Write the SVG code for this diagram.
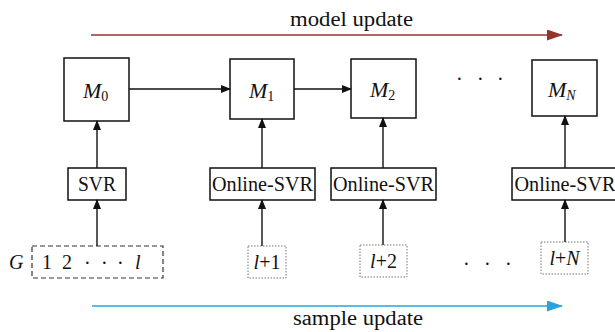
<svg xmlns="http://www.w3.org/2000/svg" width="615" height="332" viewBox="0 0 615 332" font-family="Liberation Serif, DejaVu Serif, serif">
<style>
text{fill:#111}
.box{fill:#fff;stroke:#111;stroke-width:1.5}
.lbl{font-size:20px}
.m{font-size:22px;font-style:italic}
.sub{font-size:14px;font-style:normal}
.it{font-style:italic}
.conn{stroke:#111;stroke-width:1.4;fill:none}
.dot{font-size:20px}
</style>
<defs>
<marker id="ah" markerWidth="10" markerHeight="8" refX="9" refY="4" orient="auto" markerUnits="userSpaceOnUse">
<path d="M0,0 L10,4 L0,8 Z" fill="#111"/>
</marker>
<marker id="ahr" markerWidth="16" markerHeight="11" refX="15" refY="5.5" orient="auto" markerUnits="userSpaceOnUse">
<path d="M0,0 L16,5.5 L0,11 Z" fill="#94342c"/>
</marker>
<marker id="ahb" markerWidth="16" markerHeight="11" refX="15" refY="5.5" orient="auto" markerUnits="userSpaceOnUse">
<path d="M0,0 L16,5.5 L0,11 Z" fill="#2aa2dc"/>
</marker>
</defs>

<g id="model-update">
<text class="lbl" x="290" y="26" textLength="123" lengthAdjust="spacingAndGlyphs">model update</text>
<line x1="91" y1="35" x2="562" y2="35" stroke="#94342c" stroke-width="1.5" marker-end="url(#ahr)"/>
</g>

<g id="M0"><rect class="box" x="64" y="58" width="65" height="63"/><text class="m" x="83" y="98">M<tspan class="sub" dy="3">0</tspan></text></g>
<g id="M1"><rect class="box" x="230" y="59" width="64" height="60"/><text class="m" x="249" y="98">M<tspan class="sub" dy="3">1</tspan></text></g>
<g id="M2"><rect class="box" x="351" y="59" width="65" height="59"/><text class="m" x="370" y="97">M<tspan class="sub" dy="3">2</tspan></text></g>
<g id="MN"><rect class="box" x="532" y="60" width="65" height="56"/><text class="m" x="548" y="97">M<tspan class="sub it" dy="3">N</tspan></text></g>
<g id="dots-top"><text class="dot" x="456" y="86">·</text><text class="dot" x="477" y="86">·</text><text class="dot" x="497" y="86">·</text></g>

<g id="SVR"><rect class="box" x="68" y="168" width="58" height="32"/><text class="lbl" x="97" y="191" text-anchor="middle" textLength="38" lengthAdjust="spacingAndGlyphs">SVR</text></g>
<g id="OSVR1"><rect class="box" x="210" y="168" width="105" height="32"/><text class="lbl" x="262.5" y="191" text-anchor="middle" textLength="101" lengthAdjust="spacingAndGlyphs">Online-SVR</text></g>
<g id="OSVR2"><rect class="box" x="331" y="168" width="105" height="32"/><text class="lbl" x="383.5" y="191" text-anchor="middle" textLength="101" lengthAdjust="spacingAndGlyphs">Online-SVR</text></g>
<g id="OSVRN"><rect class="box" x="512" y="168" width="106" height="32"/><text class="lbl" x="565" y="191" text-anchor="middle" textLength="101" lengthAdjust="spacingAndGlyphs">Online-SVR</text></g>

<g id="G">
<text class="lbl it" x="9" y="269">G</text>
<rect x="32" y="246" width="131" height="32" fill="#fff" stroke="#333" stroke-width="1.2" stroke-dasharray="5,3"/>
<text class="lbl" x="42" y="269">1</text><text class="lbl" x="62" y="269">2</text>
<text class="dot" x="84" y="270">·</text><text class="dot" x="101" y="270">·</text><text class="dot" x="117" y="270">·</text>
<text class="lbl it" x="135" y="269">l</text>
</g>
<g id="S1"><rect x="248" y="246" width="38" height="32" fill="#fff" stroke="#777" stroke-width="1" stroke-dasharray="1.5,1.5"/><text class="lbl" x="267" y="269" text-anchor="middle"><tspan class="it">l</tspan>+1</text></g>
<g id="S2"><rect x="360" y="245" width="47" height="32" fill="#fff" stroke="#777" stroke-width="1" stroke-dasharray="1.5,1.5"/><text class="lbl" x="383.5" y="268" text-anchor="middle"><tspan class="it">l</tspan>+2</text></g>
<g id="SN"><rect x="541" y="242" width="47" height="32" fill="#fff" stroke="#777" stroke-width="1" stroke-dasharray="1.5,1.5"/><text class="lbl" x="564.5" y="265" text-anchor="middle"><tspan class="it">l</tspan>+<tspan class="it">N</tspan></text></g>
<g id="dots-bottom"><text class="dot" x="463" y="271">·</text><text class="dot" x="484" y="271">·</text><text class="dot" x="505" y="271">·</text></g>

<g id="sample-update">
<line x1="92" y1="306" x2="562" y2="306" stroke="#2aa2dc" stroke-width="1.5" marker-end="url(#ahb)"/>
<text class="lbl" x="293" y="325" textLength="130" lengthAdjust="spacingAndGlyphs">sample update</text>
</g>

<g id="connectors">
<line class="conn" x1="129" y1="89" x2="230" y2="89" marker-end="url(#ah)"/>
<line class="conn" x1="294" y1="89" x2="351" y2="89" marker-end="url(#ah)"/>
<line class="conn" x1="97" y1="168" x2="97" y2="121" marker-end="url(#ah)"/>
<line class="conn" x1="262" y1="168" x2="262" y2="119" marker-end="url(#ah)"/>
<line class="conn" x1="383" y1="168" x2="383" y2="118" marker-end="url(#ah)"/>
<line class="conn" x1="565" y1="168" x2="565" y2="116" marker-end="url(#ah)"/>
<line class="conn" x1="97" y1="246" x2="97" y2="200" marker-end="url(#ah)"/>
<line class="conn" x1="262" y1="246" x2="262" y2="200" marker-end="url(#ah)"/>
<line class="conn" x1="383" y1="245" x2="383" y2="200" marker-end="url(#ah)"/>
<line class="conn" x1="565" y1="242" x2="565" y2="200" marker-end="url(#ah)"/>
</g>
</svg>
